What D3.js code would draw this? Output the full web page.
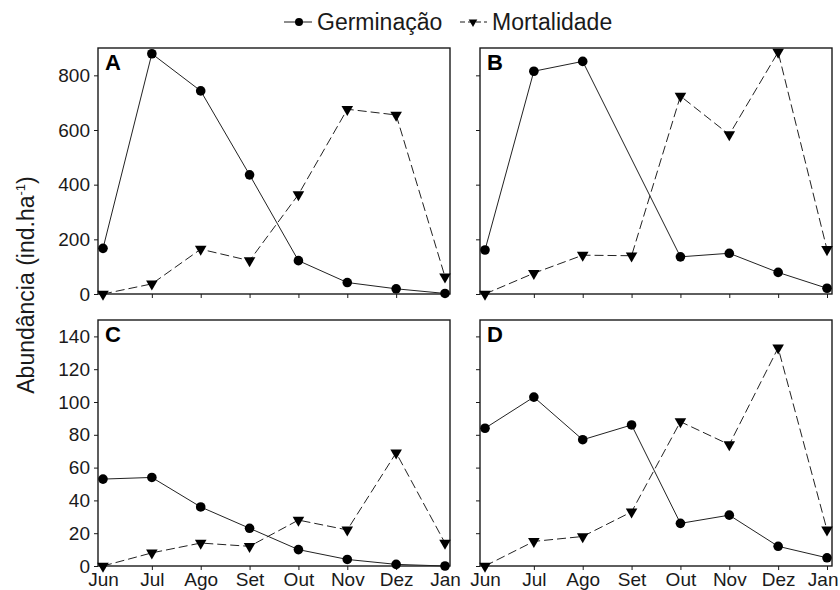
<!DOCTYPE html>
<html><head><meta charset="utf-8">
<script src="https://cdn.jsdelivr.net/npm/d3@7"></script>
<style>
body{margin:0;background:#fff;}
svg{display:block;font-family:"Liberation Sans",Arial,sans-serif;}
</style></head>
<body><svg id="c" width="840" height="590"></svg>
<script>
const months = ["Jun","Jul","Ago","Set","Out","Nov","Dez","Jan"];
const germA = [167, 879, 743, 436, 122, 42, 19, 2];
const mortA = [0, 37, 164, 122, 364, 676, 655, 63];
const germB = [161, 815, 851, null, 136, 149, 79, 21];
const mortB = [0, 76, 142, 140, 724, 583, 885, 163];
const germC = [53, 54, 36, 23, 10, 4, 1, 0];
const mortC = [0, 8, 14, 12, 28, 22, 69, 14];
const germD = [84, 103, 77, 86, 26, 31, 12, 5];
const mortD = [0, 15, 18, 33, 88, 74, 133, 22];
const ticksTop = [0, 200, 400, 600, 800];
const ticksBottom = [0, 20, 40, 60, 80, 100, 120, 140];
const seriesNames = ["Germinação", "Mortalidade"];

const panels = [
  {id:"A", g:germA, m:mortA, x0:98, x1:450, y0:48, y1:294, max:900, ticks:ticksTop, ylab:true, xlab:false},
  {id:"B", g:germB, m:mortB, x0:480, x1:832, y0:48, y1:294, max:900, ticks:ticksTop, ylab:false, xlab:false},
  {id:"C", g:germC, m:mortC, x0:98, x1:450, y0:320, y1:566, max:150, ticks:ticksBottom, ylab:true, xlab:true},
  {id:"D", g:germD, m:mortD, x0:480, x1:832, y0:320, y1:566, max:150, ticks:ticksBottom, ylab:false, xlab:true, lastEnd:true}
];
const ink = "#1a1a1a";
const svg = d3.select("#c");
const tri = d3.symbol().type(d3.symbolTriangle).size(58);

panels.forEach(p => {
  const x = d3.scalePoint().domain(months).range([p.x0 + 5, p.x1 - 5]);
  const y = d3.scaleLinear().domain([0, p.max]).range([p.y1, p.y0]);
  const g = svg.append("g");
  // y axis
  const ya = d3.axisLeft(y).tickValues(p.ticks).tickSize(4).tickSizeOuter(0)
    .tickFormat(p.ylab ? d3.format("d") : () => "");
  const yg = g.append("g").attr("transform", `translate(${p.x0},0)`).call(ya);
  yg.select(".domain").remove();
  yg.selectAll("line").attr("stroke", ink).attr("stroke-width", 1);
  yg.selectAll("text").attr("font-size", 19).attr("fill", ink).attr("x", -8).attr("font-family", "Liberation Sans, Arial, sans-serif");
  // x axis
  const xa = d3.axisBottom(x).tickSize(4).tickSizeOuter(0).tickFormat(p.xlab ? d => d : () => "");
  const xg = g.append("g").attr("transform", `translate(0,${p.y1})`).call(xa);
  xg.select(".domain").remove();
  xg.selectAll("line").attr("stroke", ink).attr("stroke-width", 1);
  xg.selectAll("text").attr("font-size", 19).attr("fill", ink).attr("y", 20).attr("dy", 0).attr("font-family", "Liberation Sans, Arial, sans-serif");
  if (p.lastEnd) {
    xg.selectAll("text").filter(d => d === months[months.length - 1])
      .attr("text-anchor", "end").attr("x", 11);
  }
  // frame
  g.append("rect").attr("x", p.x0).attr("y", p.y0).attr("width", p.x1 - p.x0).attr("height", p.y1 - p.y0)
    .attr("fill", "none").attr("stroke", ink).attr("stroke-width", 1.4);
  // lines
  const line = d3.line().x(d => x(d.k)).y(d => y(d.v));
  const gd = months.map((k, i) => ({k, v: p.g[i]})).filter(d => d.v !== null);
  const md = months.map((k, i) => ({k, v: p.m[i]})).filter(d => d.v !== null);
  g.append("path").datum(md).attr("d", line).attr("fill", "none").attr("stroke", "#222").attr("stroke-width", 1).attr("stroke-dasharray", "9,4");
  g.append("path").datum(gd).attr("d", line).attr("fill", "none").attr("stroke", "#222").attr("stroke-width", 1);
  g.selectAll(".gm").data(gd).enter().append("circle").attr("cx", d => x(d.k)).attr("cy", d => y(d.v)).attr("r", 4.8).attr("fill", "#000");
  g.selectAll(".mm").data(md).enter().append("path").attr("d", tri)
    .attr("transform", d => `translate(${x(d.k)},${y(d.v)}) rotate(180)`).attr("fill", "#000");
  // panel letter
  g.append("text").attr("x", p.x0 + 7).attr("y", p.y0 + 22).attr("font-size", 22).attr("font-weight", "bold").attr("fill", "#000").text(p.id);
});

// y-axis title
const yt = svg.append("text").attr("transform", "translate(34,285) rotate(-90)").attr("text-anchor", "middle")
  .attr("font-size", 23).attr("fill", ink);
yt.append("tspan").text("Abundância (ind.ha");
yt.append("tspan").attr("font-size", 13).attr("dy", -9).text("-1");
yt.append("tspan").attr("dy", 9).text(")");

// legend
const lg = svg.append("g");
lg.append("line").attr("x1", 284).attr("x2", 312).attr("y1", 22).attr("y2", 22).attr("stroke", ink).attr("stroke-width", 1);
lg.append("circle").attr("cx", 299).attr("cy", 22).attr("r", 4).attr("fill", "#000");
lg.append("text").attr("x", 317).attr("y", 30).attr("font-size", 23).attr("fill", ink).text(seriesNames[0]);
lg.append("line").attr("x1", 460).attr("x2", 487).attr("y1", 22).attr("y2", 22).attr("stroke", ink).attr("stroke-width", 1).attr("stroke-dasharray", "5,3");
lg.append("path").attr("d", d3.symbol().type(d3.symbolTriangle).size(32)).attr("transform", "translate(473,22) rotate(180)").attr("fill", "#000");
lg.append("text").attr("x", 492).attr("y", 30).attr("font-size", 23).attr("fill", ink).text(seriesNames[1]);
</script></body></html>
